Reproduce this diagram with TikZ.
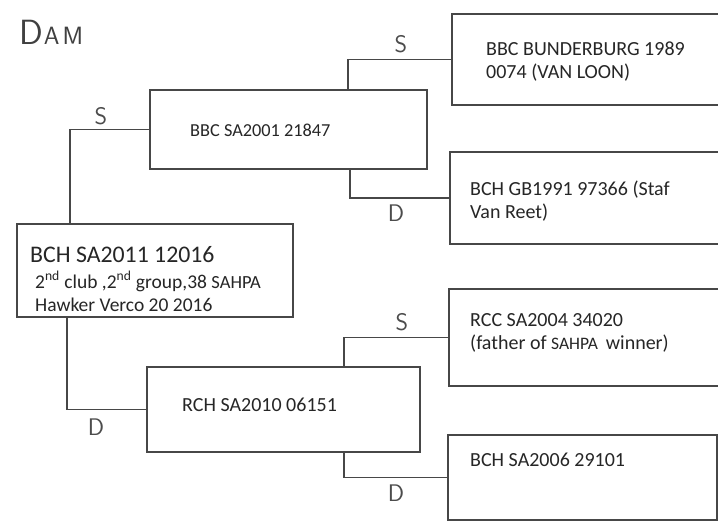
\documentclass[tikz,border=0pt]{standalone}
\usepackage{fontspec}
\setmainfont{Carlito}
\begin{document}
\begin{tikzpicture}[x=1pt,y=-1pt,
  ink/.style={draw=black!72,line width=1.1pt},
  box/.style={ink,rectangle,inner sep=0pt,outer sep=0pt,anchor=north west},
  txt/.style={anchor=west,inner sep=0pt,font=\fontsize{20}{23}\selectfont,text=black!85,align=left},
  lab/.style={inner sep=0pt,font=\sffamily\fontsize{24}{24}\selectfont,text=black!70},
  conn/.style={ink}]
\useasboundingbox (0,0) rectangle (718,524);
\fill[white] (0,0) rectangle (718,524);
\clip (0,0) rectangle (718,524);
% boxes
\node[box,minimum width=276pt,minimum height=93pt] (main) at (17,224) {};
\node[box,minimum width=277pt,minimum height=79pt] (bbc) at (150,90) {};
\node[box,minimum width=273pt,minimum height=85pt] (rch) at (147,367) {};
\node[box,minimum width=280pt,minimum height=91pt] (bund) at (452,14) {};
\node[box,minimum width=282pt,minimum height=92pt] (gb) at (450,152) {};
\node[box,minimum width=283pt,minimum height=97pt] (rcc) at (449,289) {};
\node[box,minimum width=269pt,minimum height=85pt] (sa06) at (448,435) {};
% texts
\node[txt,font=\fontsize{23.8}{25}\selectfont] (mainA) at (30,255) {BCH SA2011 12016};
\node[txt,font=\fontsize{19.5}{23}\selectfont] (mainB) at (35,291.5) {2\textsuperscript{nd} club ,2\textsuperscript{nd} group,38 {\fontsize{18.5}{18}\selectfont SAHPA}\\Hawker Verco 20 2016};
\node[txt,font=\fontsize{18.3}{23}\selectfont] (bbcT) at (190,130) {BBC SA2001 21847};
\node[txt] (bundT) at (486,61.5) {BBC BUNDERBURG 1989\\0074 (VAN LOON)};
\node[txt] (gbT) at (470,201.5) {BCH GB1991 97366 (Staf\\Van Reet)};
\node[txt] (rchT) at (182,405) {RCH SA2010 06151};
\node[txt] (rccT) at (470,332.5) {RCC SA2004 34020\\(father of {\fontsize{17.5}{17}\selectfont SAHPA}\ \,winner)};
\node[txt] (sa06T) at (470,460) {BCH SA2006 29101};
% title
\node[anchor=base west,inner sep=0pt,text=black!75,font=\sffamily] (dam) at (19,45) {{\fontsize{35}{35}\selectfont D}\hspace{1pt}{\fontsize{25}{25}\selectfont A\hspace{3pt}M}};
% connectors
\draw[conn] (main.north west) ++(53,0) |- (bbc.west);
\draw[conn] (bbc.north west) ++(198,0) |- (bund.west);
\draw[conn] (bbc.south west) ++(200,0) |- (gb.west);
\draw[conn] (main.south west) ++(50,0) |- (rch.west);
\draw[conn] (rch.north west) ++(197,0) |- (rcc.west);
\draw[conn] (rch.south west) ++(197,0) |- (sa06.west);
% labels
\node[lab] (s1) at (101,116) {S};
\node[lab] (s2) at (401,44) {S};
\node[lab] (d1) at (396,213) {D};
\node[lab] (d2) at (96,427) {D};
\node[lab] (s3) at (402,322) {S};
\node[lab] (d3) at (396,493) {D};
\end{tikzpicture}
\end{document}
